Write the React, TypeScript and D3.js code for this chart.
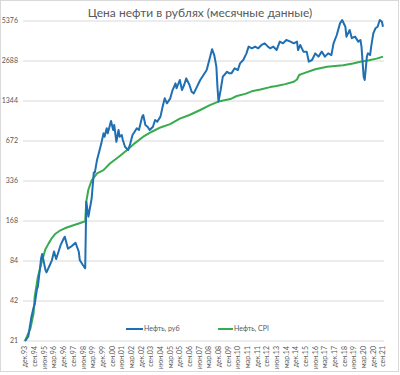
import React from "react";
import * as d3 from "d3";

const WIDTH = 400;
const HEIGHT = 375;

const TITLE = "Цена нефти в рублях (месячные данные)";

// months counted from Dec 1993
const rubMonth = [
  0, 3, 6, 8, 9, 11, 12, 15, 16, 19, 20, 23, 25, 27, 29, 33, 36, 37, 40, 43, 47, 50, 51, 54, 56,
  57, 59, 62, 64, 65, 67, 69, 71, 73, 74, 76, 77, 80, 82, 83, 85, 87, 88, 90, 91, 93, 96, 98,
  100, 102, 104, 106, 109, 110, 112, 114, 116, 119, 121, 123, 126, 128, 130, 132, 135, 137, 140,
  141, 144, 146, 148, 150, 153, 155, 157, 160, 163, 166, 169, 171, 174, 176, 178, 179, 180, 182,
  184, 188, 190, 192, 195, 198, 200, 203, 206, 208, 211, 214, 217, 220, 223, 226, 228, 231, 234,
  237, 240, 243, 247, 250, 253, 254, 256, 259, 262, 264, 267, 270, 273, 276, 279, 282, 285, 287,
  290, 293, 295, 298, 299, 302, 304, 307, 310, 312, 313, 315, 316, 318, 319, 321, 322, 324, 326,
  328, 330, 332, 333,
];
const rubValue = [
  21, 22.6, 32, 37.6, 39.5, 51, 54, 88, 95, 72, 69, 78, 85, 99, 87, 110, 124, 128, 104, 108, 115,
  99, 85, 78, 74, 235, 181, 248, 390, 390, 484, 558, 645, 767, 724, 838, 767, 950, 813, 886, 663,
  813, 724, 746, 684, 609, 575, 645, 746, 789, 838, 813, 1025, 1054, 886, 861, 813, 861, 967, 938,
  1025, 1218, 1409, 1291, 1400, 1600, 1823, 1676, 1934, 1626, 1773, 1990, 1773, 1577, 1533, 1724,
  1934, 2110, 2300, 2655, 3300, 2980, 2440, 1724, 1330, 1626, 2050, 2230, 2170, 2170, 2370, 2300,
  2580, 2735, 3070, 3450, 3350, 3450, 3350, 3550, 3650, 3450, 3350, 3450, 3250, 3760, 3650, 3870,
  3760, 3650, 3760, 3250, 3550, 3160, 3160, 2655, 2735, 3070, 2900, 3160, 2900, 3070, 2980, 3650,
  4217, 5160, 5470, 4870, 4100, 4600, 3990, 4100, 3760, 3870, 3450, 2050, 1934, 2900, 3070, 2980,
  3450, 4340, 4740, 4870, 5470, 5305, 4870,
];

const cpiMonth = [
  0, 5, 8, 9, 12, 16, 19, 22, 25, 28, 33, 37, 43, 50, 54, 56, 57, 59, 62, 67, 73, 79, 87, 95, 102,
  110, 118, 126, 135, 144, 153, 163, 172, 181, 191, 197, 205, 212, 219, 228, 234, 242, 250, 253,
  255, 259, 270, 281, 296, 305, 312, 320, 327, 333,
];
const cpiValue = [
  21, 26, 34, 45, 64, 85, 103, 114, 125, 134, 143, 148, 154, 161, 165, 167, 235, 290, 340, 384,
  406, 455, 509, 575, 645, 724, 789, 850, 900, 990, 1054, 1150, 1250, 1340, 1390, 1465, 1520,
  1600, 1640, 1710, 1740, 1800, 1875, 1950, 2110, 2170, 2330, 2430, 2500, 2570, 2655, 2720, 2800,
  2900,
];

const yTicks = [21, 42, 84, 168, 336, 672, 1344, 2688, 5376];

const xTickLabels = [
  "дек.93", "сен.94", "июн.95", "мар.96", "дек.96", "сен.97", "июн.98", "мар.99", "дек.99",
  "сен.00", "июн.01", "мар.02", "дек.02", "сен.03", "июн.04", "мар.05", "дек.05", "сен.06",
  "июн.07", "мар.08", "дек.08", "сен.09", "июн.10", "мар.11", "дек.11", "сен.12", "июн.13",
  "мар.14", "дек.14", "сен.15", "июн.16", "мар.17", "дек.17", "сен.18", "июн.19", "мар.20",
  "дек.20", "сен.21",
];
const TICK_STEP = 9; // months between labels

const BLUE = "#1f6fb2";
const GREEN = "#38ab4f";
const TEXT = "#595959";
const FONT = "Lato, 'Open Sans', sans-serif";

export default function App() {
  const x = d3.scaleLinear().domain([0, 333]).range([25, 383]);
  const y = d3.scaleLog().base(2).domain([21, 5376]).range([341, 21]);

  const line = d3
    .line<[number, number]>()
    .x((d) => x(d[0]))
    .y((d) => y(d[1]));

  const rubPath = line(rubMonth.map((m, i) => [m, rubValue[i]]));
  const cpiPath = line(cpiMonth.map((m, i) => [m, cpiValue[i]]));

  return (
    <div style={{ position: "fixed", left: 0, top: 0 }}>
      <svg width={WIDTH} height={HEIGHT} style={{ display: "block", background: "#fff" }}>
        <rect x={0.5} y={0.5} width={398} height={371} fill="none" stroke="#d9d9d9" />
        <text
          x={200}
          y={17}
          textAnchor="middle"
          style={{ fontFamily: FONT, fontSize: 12, fill: TEXT }}
        >
          {TITLE}
        </text>

        {yTicks.map((t) => (
          <g key={t}>
            <line x1={23} x2={384} y1={y(t)} y2={y(t)} stroke="#d9d9d9" strokeWidth={1} />
            <text
              x={18}
              y={y(t)}
              dy="0.35em"
              textAnchor="end"
              style={{ fontFamily: FONT, fontSize: 7, fill: TEXT }}
            >
              {t}
            </text>
          </g>
        ))}

        {xTickLabels.map((lab, i) => (
          <text
            key={lab}
            transform={`translate(${x(i * TICK_STEP)},346) rotate(-90)`}
            dy="0.35em"
            textAnchor="end"
            style={{ fontFamily: FONT, fontSize: 7, fill: TEXT }}
          >
            {lab}
          </text>
        ))}

        <path d={cpiPath ?? ""} fill="none" stroke={GREEN} strokeWidth={2} strokeLinejoin="round" />
        <path d={rubPath ?? ""} fill="none" stroke={BLUE} strokeWidth={2} strokeLinejoin="round" />

        <g style={{ fontFamily: FONT, fontSize: 7, fill: TEXT }}>
          <line x1={126} x2={143} y1={329} y2={329} stroke={BLUE} strokeWidth={2} />
          <text x={144} y={329} dy="0.35em">
            Нефть, руб
          </text>
          <line x1={218} x2={233} y1={329} y2={329} stroke={GREEN} strokeWidth={2} />
          <text x={234} y={329} dy="0.35em">
            Нефть, CPI
          </text>
        </g>
      </svg>
    </div>
  );
}
